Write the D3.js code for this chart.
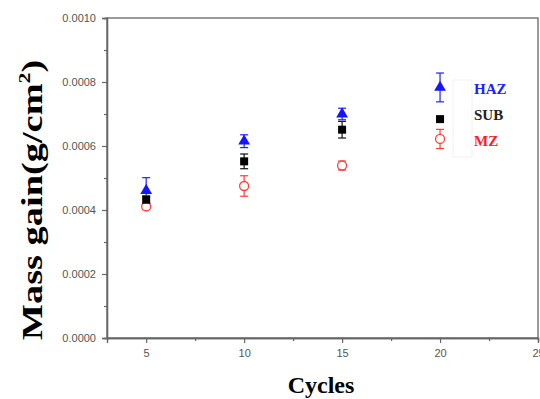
<!DOCTYPE html>
<html>
<head>
<meta charset="utf-8">
<script src="https://cdn.jsdelivr.net/npm/d3@7"></script>
<style>
  body { margin: 0; background: #fff; }
  svg { display: block; }
</style>
</head>
<body>
<div id="chart"></div>
<script>
// data
const cycles = [5, 10, 15, 20];
const hazValues = [0.000461, 0.000615, 0.000700, 0.000783];
const hazErrors = [0.000040, 0.000020, 0.000018, 0.000045];
const subValues = [0.000432, 0.000552, 0.000651, 0.000684];
const subErrors = [0.000012, 0.000023, 0.000026, 0.000006];
const mzValues = [0.000411, 0.000475, 0.000539, 0.000622];
const mzErrors = [0.000010, 0.000032, 0.000014, 0.000030];
const xTicks = [5, 10, 15, 20, 25];
const yTicks = [0, 0.0002, 0.0004, 0.0006, 0.0008, 0.0010];
const seriesNames = ["HAZ", "SUB", "MZ"];

const width = 540, height = 399;
const margin = { top: 18, right: 2, bottom: 61, left: 107 };

const svg = d3.select("#chart")
  .append("svg")
  .attr("width", width)
  .attr("height", height);

const x = d3.scaleLinear().domain([3, 25]).range([margin.left, width - margin.right]);
const y = d3.scaleLinear().domain([0, 0.001]).range([height - margin.bottom, margin.top]);

const axisColor = "#666";

// frame
svg.append("rect")
  .attr("x", x(3)).attr("y", y(0.001))
  .attr("width", x(25) - x(3)).attr("height", y(0) - y(0.001))
  .attr("fill", "none").attr("stroke", axisColor).attr("stroke-width", 1.3);

// x axis
svg.append("g")
  .attr("transform", `translate(0,${y(0)})`)
  .call(d3.axisBottom(x).tickValues(xTicks).tickSize(5).tickPadding(6).tickFormat(d3.format("d")));
svg.append("g")
  .attr("transform", `translate(0,${y(0)})`)
  .call(d3.axisBottom(x).tickValues([7.5, 12.5, 17.5, 22.5]).tickSize(3).tickFormat(""));

// y axis
svg.append("g")
  .attr("transform", `translate(${x(3)},0)`)
  .call(d3.axisLeft(y).tickValues(yTicks).tickSize(5).tickPadding(6).tickFormat(d3.format(".4f")));
svg.append("g")
  .attr("transform", `translate(${x(3)},0)`)
  .call(d3.axisLeft(y).tickValues([0.0001, 0.0003, 0.0005, 0.0007, 0.0009]).tickSize(3).tickFormat(""));

svg.selectAll(".domain").attr("stroke", axisColor).attr("stroke-width", 1.3);
svg.selectAll(".tick line").attr("stroke", axisColor).attr("stroke-width", 1.2);
svg.selectAll(".tick text")
  .attr("fill", "#555")
  .style("font-family", "Arial, 'Liberation Sans', sans-serif")
  .style("font-size", "11px");

// axis titles
svg.append("text")
  .attr("transform", `translate(42,200) rotate(-90) scale(1.28,1)`)
  .attr("text-anchor", "middle")
  .style("font-family", "'Times New Roman', 'Liberation Serif', serif")
  .style("font-weight", "bold")
  .style("font-size", "30px")
  .html('Mass gain(g/cm<tspan dy="-12" font-size="17px">2</tspan><tspan dy="12">)</tspan>');

svg.append("text")
  .attr("x", 321).attr("y", 393)
  .attr("text-anchor", "middle")
  .style("font-family", "'Times New Roman', 'Liberation Serif', serif")
  .style("font-weight", "bold")
  .style("font-size", "24px")
  .text("Cycles");

// error bars
function errorBars(values, errors, color) {
  const g = svg.append("g").attr("stroke", color).attr("stroke-width", 1.2);
  cycles.forEach((c, i) => {
    const cx = x(c), top = y(values[i] + errors[i]), bot = y(values[i] - errors[i]);
    g.append("line").attr("x1", cx).attr("x2", cx).attr("y1", top).attr("y2", bot);
    g.append("line").attr("x1", cx - 4).attr("x2", cx + 4).attr("y1", top).attr("y2", top);
    g.append("line").attr("x1", cx - 4).attr("x2", cx + 4).attr("y1", bot).attr("y2", bot);
  });
}

errorBars(mzValues, mzErrors, "#ff3b3b");
errorBars(subValues, subErrors, "#111");
errorBars(hazValues, hazErrors, "#2020ff");

// MZ open circles
svg.selectAll(".mz")
  .data(cycles)
  .join("circle")
  .attr("cx", d => x(d))
  .attr("cy", (d, i) => y(mzValues[i]))
  .attr("r", 4.5)
  .attr("fill", "#fff")
  .attr("stroke", "#ff3b3b")
  .attr("stroke-width", 1.3);

// SUB squares
svg.selectAll(".sub")
  .data(cycles)
  .join("rect")
  .attr("x", d => x(d) - 4)
  .attr("y", (d, i) => y(subValues[i]) - 4)
  .attr("width", 8)
  .attr("height", 8)
  .attr("fill", "#000");

// HAZ triangles
const tri = d3.symbol().type(d3.symbolTriangle).size(60);
svg.selectAll(".haz")
  .data(cycles)
  .join("path")
  .attr("d", tri)
  .attr("transform", (d, i) => `translate(${x(d)},${y(hazValues[i])})`)
  .attr("fill", "#1515ff");

// legend
svg.append("rect")
  .attr("x", 453).attr("y", 80).attr("width", 19).attr("height", 77)
  .attr("fill", "none").attr("stroke", "#eee").attr("stroke-width", 0.8);

const legendColors = ["#2020ff", "#222", "#ff2020"];
svg.selectAll(".legend")
  .data(seriesNames)
  .join("text")
  .attr("x", 474)
  .attr("y", (d, i) => 94 + i * 26)
  .attr("fill", (d, i) => legendColors[i])
  .style("font-family", "'Times New Roman', 'Liberation Serif', serif")
  .style("font-weight", "bold")
  .style("font-size", "15px")
  .text(d => d);
</script>
</body>
</html>
